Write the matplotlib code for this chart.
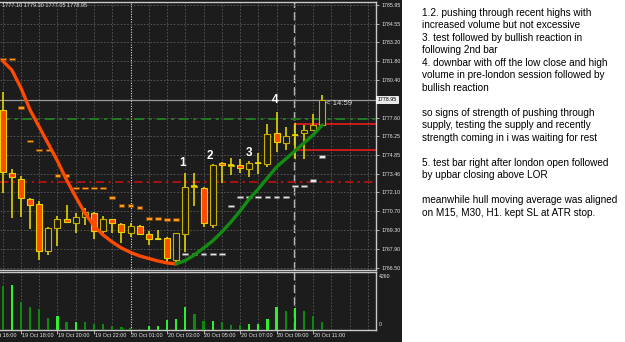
# XAUUSD M30 chart with hull MA, ATR stop and volume, plus notes panel.

import matplotlib
matplotlib.use('Agg')
import matplotlib.pyplot as plt
import matplotlib.transforms as mtransforms
from matplotlib.patches import Rectangle
import numpy as np

plt.rcParams['font.family'] = ['Liberation Sans', 'DejaVu Sans']

# candles (30 min bars, 19 Oct 17:00 .. 20 Oct 11:30)
opens = [1778.18, 1773.55, 1773.06, 1771.60, 1771.21, 1767.78, 1769.43, 1770.10, 1769.85, 1770.30,
         1770.60, 1769.26, 1770.10, 1769.73, 1769.11, 1769.58, 1769.01, 1768.64, 1768.74, 1767.09,
         1768.99, 1772.51, 1772.39, 1769.68, 1774.24, 1774.07, 1774.12, 1773.82, 1774.29, 1774.19,
         1776.46, 1775.77, 1776.34, 1776.46, 1776.68, 1777.10]
highs = [1779.54, 1773.80, 1773.30, 1771.68, 1771.43, 1769.51, 1770.35, 1771.16, 1770.54, 1770.96,
         1770.67, 1770.37, 1770.12, 1769.85, 1769.85, 1769.68, 1769.26, 1769.31, 1768.82, 1769.11,
         1773.50, 1773.55, 1772.51, 1774.19, 1774.36, 1774.61, 1774.54, 1774.44, 1774.98, 1777.15,
         1778.06, 1776.90, 1777.20, 1777.07, 1777.90, 1779.30]
lows = [1772.07, 1770.22, 1770.30, 1769.36, 1767.09, 1767.46, 1768.13, 1769.80, 1769.06, 1769.68,
        1768.64, 1769.11, 1769.11, 1768.32, 1768.82, 1768.98, 1768.20, 1768.57, 1766.97, 1766.89,
        1767.71, 1771.08, 1769.56, 1769.43, 1772.76, 1773.38, 1773.55, 1773.25, 1773.45, 1773.99,
        1775.10, 1775.23, 1774.54, 1774.56, 1776.60, 1777.05]
closes = [1773.62, 1773.20, 1771.65, 1771.16, 1767.78, 1769.43, 1770.10, 1769.90, 1770.30, 1770.62,
          1769.24, 1770.10, 1769.80, 1769.14, 1769.63, 1769.01, 1768.62, 1768.62, 1767.22, 1769.06,
          1772.51, 1772.53, 1769.80, 1774.12, 1774.14, 1774.08, 1773.87, 1774.24, 1774.30, 1776.41,
          1775.84, 1776.29, 1776.36, 1776.71, 1777.10, 1778.95]
volumes = [3238, 3286, 2069, 1655, 1509, 901, 998, 560, 609, 560, 462, 438, 268, 195, 122, 70,
           268, 292, 730, 779, 1704, 1144, 640, 665, 609, 365, 355, 438, 462, 803, 1655, 1412,
           1582, 1388, 1022, 560]

# hull moving average (falling part orange, rising part green)
hull = [1781.81, 1781.14, 1779.81, 1778.18, 1776.93, 1775.67, 1774.41, 1773.01, 1771.75, 1770.57,
        1769.61, 1768.94, 1768.42, 1767.98, 1767.65, 1767.39, 1767.20, 1767.02, 1766.87, 1766.80,
        1767.05, 1767.46, 1767.98, 1768.50, 1769.16, 1769.90, 1770.72, 1771.60, 1772.34, 1773.16,
        1773.97, 1774.56, 1775.15, 1775.74, 1776.34, 1777.07]
hull_turn = 19

# ATR stop dashes
stop_down = [1781.96, 1781.96, 1778.38, 1775.89, 1775.23, 1775.23, 1773.33, 1773.33, 1772.42, 1772.42,
             1772.42, 1772.42, 1771.70, 1771.14, 1771.14, 1770.99, 1770.17, 1770.17, 1770.10, 1770.10]
stop_up = [1767.54, 1767.54, 1767.54, 1767.54, 1767.54, 1771.08, 1771.75, 1771.75, 1771.75, 1771.75,
           1771.75, 1771.75, 1772.56, 1772.56, 1772.96, 1774.73]

bid = 1778.95
green_level = 1777.55
red_level = 1772.84
lor_high, lor_low = 1777.15, 1775.20
london_bar = 32
day_bar = 14

price_ticks = [1785.95, 1784.55, 1783.20, 1781.80, 1780.40, 1777.60, 1776.25, 1774.85,
               1773.46, 1772.10, 1770.70, 1769.30, 1767.90, 1766.50]
time_bars = [-2, 2, 6, 10, 14, 18, 22, 26, 30, 34]
time_labels = ['19 Oct 16:00', '19 Oct 18:00', '19 Oct 20:00', '19 Oct 22:00', '20 Oct 01:00',
               '20 Oct 03:00', '20 Oct 05:00', '20 Oct 07:00', '20 Oct 09:00', '20 Oct 11:00']

marks = ['1', '2', '3', '4']
mark_x = [19.7, 22.7, 27.0, 29.8]
mark_y = [1774.29, 1774.80, 1774.98, 1778.92]

notes = ['1.2. pushing through recent highs with',
         'increased volume but not excessive',
         '3. test followed by bullish reaction in',
         'following 2nd bar',
         '4. downbar with off the low close and high',
         'volume in pre-london session followed by',
         'bullish reaction',
         '',
         'so signs of strength of pushing through',
         'supply, testing the supply and recently',
         'strength coming in i was waiting for rest',
         '',
         '5. test bar right after london open followed',
         'by upbar closing above LOR',
         '',
         'meanwhile hull moving average was aligned',
         'on M15, M30, H1. kept SL at ATR stop.']

W, H = 625, 342
bg = '#1c1c1c'
fg = '#e6e6e6'
frame = '#c8c8c8'

fig = plt.figure(figsize=(W / 100, H / 100), dpi=100, facecolor='white')
fig.patches.append(Rectangle((0, 0), 402 / W, 1, transform=fig.transFigure,
                             facecolor=bg, edgecolor='none', zorder=-5))


def box(x0, y0, x1, y1):
    return [x0 / W, 1 - y1 / H, (x1 - x0) / W, (y1 - y0) / H]


ax = fig.add_axes(box(0, 2, 376, 270))
axv = fig.add_axes(box(0, 272, 376, 330))
for a in (ax, axv):
    a.set_zorder(1)
    a.set_facecolor(bg)
    a.set_xlim(-0.296, 40.89)
    for s in a.spines.values():
        s.set_color(frame)
        s.set_linewidth(1)
    a.spines['left'].set_visible(False)
    # grid
    for xg in range(0, 41, 2):
        if xg != day_bar:
            a.axvline(xg, color='#5c5c5c', lw=0.6, ls=(0, (2, 2)), zorder=1)
    a.axvline(day_bar, color='#dddddd', lw=0.8, ls=(0, (1, 1.3)), zorder=1)
    a.axvline(london_bar - 0.04, color='#b4b4b4', lw=1.0, ls=(0, (6, 3)), zorder=1)

ax.set_ylim(1766.35, 1786.17)
for p in price_ticks:
    ax.axhline(p, color='#5c5c5c', lw=0.6, ls=(0, (2, 2)), zorder=1)

x = np.arange(len(opens))
o = np.array(opens)
h = np.array(highs)
l = np.array(lows)
c = np.array(closes)
up = c >= o

# reference lines
ax.axhline(bid, color='#9a9a9a', lw=0.9, zorder=2)
ax.axhline(green_level, color='#217a21', lw=1.4, ls=(0, (5, 2.5, 1.5, 2.5)), zorder=2)
ax.axhline(red_level, color='#c01010', lw=1.2, ls=(0, (5, 2.5, 1.5, 2.5)), zorder=2)
ax.hlines([lor_high, lor_low], london_bar - 0.05, 41, color='#ff1a1a', lw=1.1, zorder=2)

# candles
ax.vlines(x, l, h, color='#f2e200', lw=1.1, zorder=3)
body_col = np.where(up, bg, '#ff4a00')
edge_col = np.where(up, '#c8b000', '#e8d400')
ax.bar(x, np.abs(c - o), bottom=np.minimum(o, c), width=0.66, color=body_col,
       edgecolor=edge_col, linewidth=0.8, zorder=4)
doji = np.abs(c - o) < 0.06
ax.hlines(c[doji], x[doji] - 0.33, x[doji] + 0.33, color='#f2e200', lw=1.1, zorder=5)

# ATR stop
xd = np.arange(len(stop_down))
xu = np.arange(len(stop_up)) + len(stop_down)
ax.bar(xd, 0.2, bottom=np.array(stop_down) - 0.1, width=0.62, color='#ff9a1a',
       edgecolor='#7a4000', linewidth=0.5, zorder=5)
ax.bar(xu, 0.2, bottom=np.array(stop_up) - 0.1, width=0.62, color='#e8e8e8',
       edgecolor='#6a6a6a', linewidth=0.5, zorder=5)

# hull MA
ax.plot(x[:hull_turn + 1], hull[:hull_turn + 1], color='#ff4a00', lw=2.4,
        solid_capstyle='round', zorder=6)
ax.plot(x[hull_turn:], hull[hull_turn:], color='#148c14', lw=2.4,
        solid_capstyle='round', zorder=6)

for m, mx, my in zip(marks, mark_x, mark_y):
    ax.text(mx, my, m, color='white', fontsize=8.5, fontweight='bold',
            ha='center', va='center', zorder=7)

ax.text(35.4, 1778.68, '< 14:59', color='#dcdcdc', fontsize=5.6, va='center', ha='left', zorder=7)
ax.text(0.005, 0.986, '%.2f %.2f %.2f %.2f' % (opens[-1], highs[-1], lows[-1], closes[-1]),
        transform=ax.transAxes, color=fg, fontsize=4, va='center', ha='left')

# price axis
ax.yaxis.tick_right()
ax.set_yticks(price_ticks)
ax.set_yticklabels(['%.2f' % p for p in price_ticks])
ax.tick_params(axis='y', length=2.5, width=0.6, color=frame, pad=1.5,
               labelsize=3.8, labelcolor=fg)
ax.set_xticks([])
trans = mtransforms.blended_transform_factory(ax.transAxes, ax.transData)
ax.text(1.004, bid, '%.2f' % bid, transform=trans, fontsize=3.8, color='black',
        va='center', ha='left', bbox=dict(boxstyle='square,pad=0.25', fc='#e8e8e8', ec='white', lw=0.6))

# volume
vol = np.array(volumes)
vol_up = np.r_[False, vol[1:] > vol[:-1]]
axv.bar(x, vol, width=0.25, color=np.where(vol_up, '#2ef02e', '#0c8a0c'), zorder=3)
axv.set_ylim(0, 4260)
axv.set_yticks([])
axv.text(1.008, 0.97, '4260', transform=axv.transAxes, fontsize=3.8, color=fg, va='top', ha='left')
axv.text(1.008, 0.06, '0', transform=axv.transAxes, fontsize=3.8, color=fg, va='bottom', ha='left')

axv.set_xticks([b for b in time_bars if b >= 0])
axv.tick_params(axis='x', length=3, width=0.6, color=frame, labelbottom=False)
tx = mtransforms.blended_transform_factory(axv.transData, axv.transAxes)
for b, lab in zip(time_bars, time_labels):
    axv.text(b + 0.08, -0.095, lab, transform=tx, fontsize=4, color=fg,
             ha='left', va='center', clip_on=False)

# notes panel
for k, line in enumerate(notes):
    fig.text(422 / W, 1 - (12.7 + 12.5 * k) / H, line, fontsize=7.2, color='black',
             ha='left', va='center')

fig.savefig('out.png', dpi=100, facecolor=fig.get_facecolor())
